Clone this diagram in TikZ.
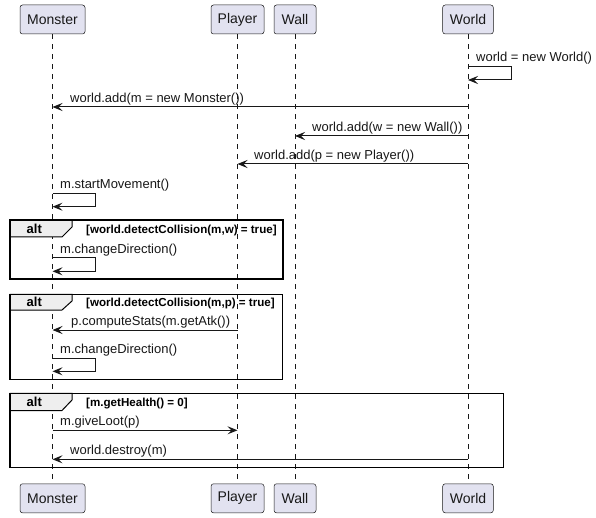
\documentclass[tikz,border=0pt]{standalone}
\usepackage{fontspec}
\setmainfont{Liberation Sans}
\usetikzlibrary{arrows.meta}
\definecolor{pfill}{HTML}{E2E2F0}
\definecolor{pline}{HTML}{181818}
\definecolor{tabfill}{HTML}{EEEEEE}
\begin{document}
\begin{tikzpicture}[x=1pt,y=-1pt,
 part/.style={draw=pline, fill=pfill, rounded corners=2.5pt, line width=0.5pt, minimum height=29pt, inner sep=0pt, font=\fontsize{14}{16}\selectfont, text=pline},
 life/.style={draw=pline, dash pattern=on 5pt off 5pt, line width=0.5pt},
 msg/.style={draw=pline, line width=1pt, -{Stealth[length=10pt,width=8pt,inset=4pt]}},
 lbl/.style={anchor=base west, inner sep=0pt, font=\fontsize{13}{15}\selectfont, text=pline},
 frm/.style={draw=black, line width=1.5pt},
 tabbox/.style={draw=black, fill=tabfill, line width=1pt},
 altlbl/.style={anchor=base west, inner sep=0pt, font=\bfseries\fontsize{13}{15}\selectfont},
 cond/.style={anchor=base west, inner sep=0pt, font=\bfseries\fontsize{11.6}{13}\selectfont}]
\useasboundingbox (0,0) rectangle (596,518);
\fill[white] (0,0) rectangle (596,518);

% participants
\node[part, minimum width=65pt]   (mT)  at (52.5,19.5) {Monster};
\node[part, minimum width=53pt]   (pT)  at (237.5,19.5) {Player};
\node[part, minimum width=42pt]   (wT)  at (295,19.5) {Wall};
\node[part, minimum width=50.6pt] (wdT) at (468,19.5) {World};
\node[part, minimum width=65pt]   (mB)  at (52.5,498.3) {Monster};
\node[part, minimum width=53pt]   (pB)  at (237.5,498.3) {Player};
\node[part, minimum width=42pt]   (wB)  at (295,498.3) {Wall};
\node[part, minimum width=50.6pt] (wdB) at (468,498.3) {World};

% lifelines
\draw[life] (mT.south) -- (mB.north);
\draw[life] (pT.south) -- (pB.north);
\draw[life] (wT.south) -- (wB.north);
\draw[life] (wdT.south) -- (wdB.north);

% coordinates on lifelines
\coordinate (w1a) at (468,66.7);  \coordinate (w1b) at (468,80);
\coordinate (w2) at (468,107);    \coordinate (m2) at (52.5,107);
\coordinate (w3) at (468,136);    \coordinate (l3) at (295,136);
\coordinate (w4) at (468,164);    \coordinate (p4) at (237.5,164);
\coordinate (m5a) at (52.5,193.3); \coordinate (m5b) at (52.5,206.7);
\coordinate (m6a) at (52.5,258);  \coordinate (m6b) at (52.5,271.3);
\coordinate (p7) at (237.5,330);  \coordinate (m7) at (52.5,330);
\coordinate (m8a) at (52.5,358);  \coordinate (m8b) at (52.5,371.3);
\coordinate (m9) at (52.5,430.3); \coordinate (p9) at (237.5,430.3);
\coordinate (w10) at (468,459.3); \coordinate (m10) at (52.5,459.3);

% messages
\draw[msg] (w1a) -- ++(43,0) |- (w1b);
\node[lbl] (t1) at (476,62) {world = new World()};
\draw[msg] (w2) -- (m2);
\node[lbl] (t2) at (70,102.5) {world.add(m = new Monster())};
\draw[msg] (w3) -- (l3);
\node[lbl] (t3) at (312,131.5) {world.add(w = new Wall())};
\draw[msg] (w4) -- (p4);
\node[lbl] (t4) at (254,159.5) {world.add(p = new Player())};
\draw[msg] (m5a) -- ++(43,0) |- (m5b);
\node[lbl] (t5) at (60,189) {m.startMovement()};

% alt 1
\draw[tabbox] (10,220) -- (72,220) -- (72,227) -- (62,237) -- (10,237) -- cycle;
\draw[frm] (10,220) rectangle (283,279);
\node[altlbl] (a1) at (26.5,233.5) {alt};
\node[cond] (c1) at (86,233.5) {[world.detectCollision(m,w) = true]};
\draw[msg] (m6a) -- ++(43,0) |- (m6b);
\node[lbl] (t6) at (60,254) {m.changeDirection()};

% alt 2
\draw[tabbox] (10,294.3) -- (72,294.3) -- (72,301) -- (62,310) -- (10,310) -- cycle;
\draw[frm] (10,294.3) rectangle (282.7,379.3);
\node[altlbl] (a2) at (26.5,306.5) {alt};
\node[cond] (c2) at (86,306.5) {[world.detectCollision(m,p) = true]};
\draw[msg] (p7) -- (m7);
\node[lbl] (t7) at (71,325.5) {p.computeStats(m.getAtk())};
\draw[msg] (m8a) -- ++(43,0) |- (m8b);
\node[lbl] (t8) at (60,353.5) {m.changeDirection()};

% alt 3
\draw[tabbox] (10,393.3) -- (72,393.3) -- (72,400) -- (62,410.5) -- (10,410.5) -- cycle;
\draw[frm] (10,393.3) rectangle (503.7,467.7);
\node[altlbl] (a3) at (26.5,406.5) {alt};
\node[cond] (c3) at (86,406.5) {[m.getHealth() = 0]};
\draw[msg] (m9) -- (p9);
\node[lbl] (t9) at (60,425.8) {m.giveLoot(p)};
\draw[msg] (w10) -- (m10);
\node[lbl] (t10) at (70,454.8) {world.destroy(m)};
\end{tikzpicture}
\end{document}
